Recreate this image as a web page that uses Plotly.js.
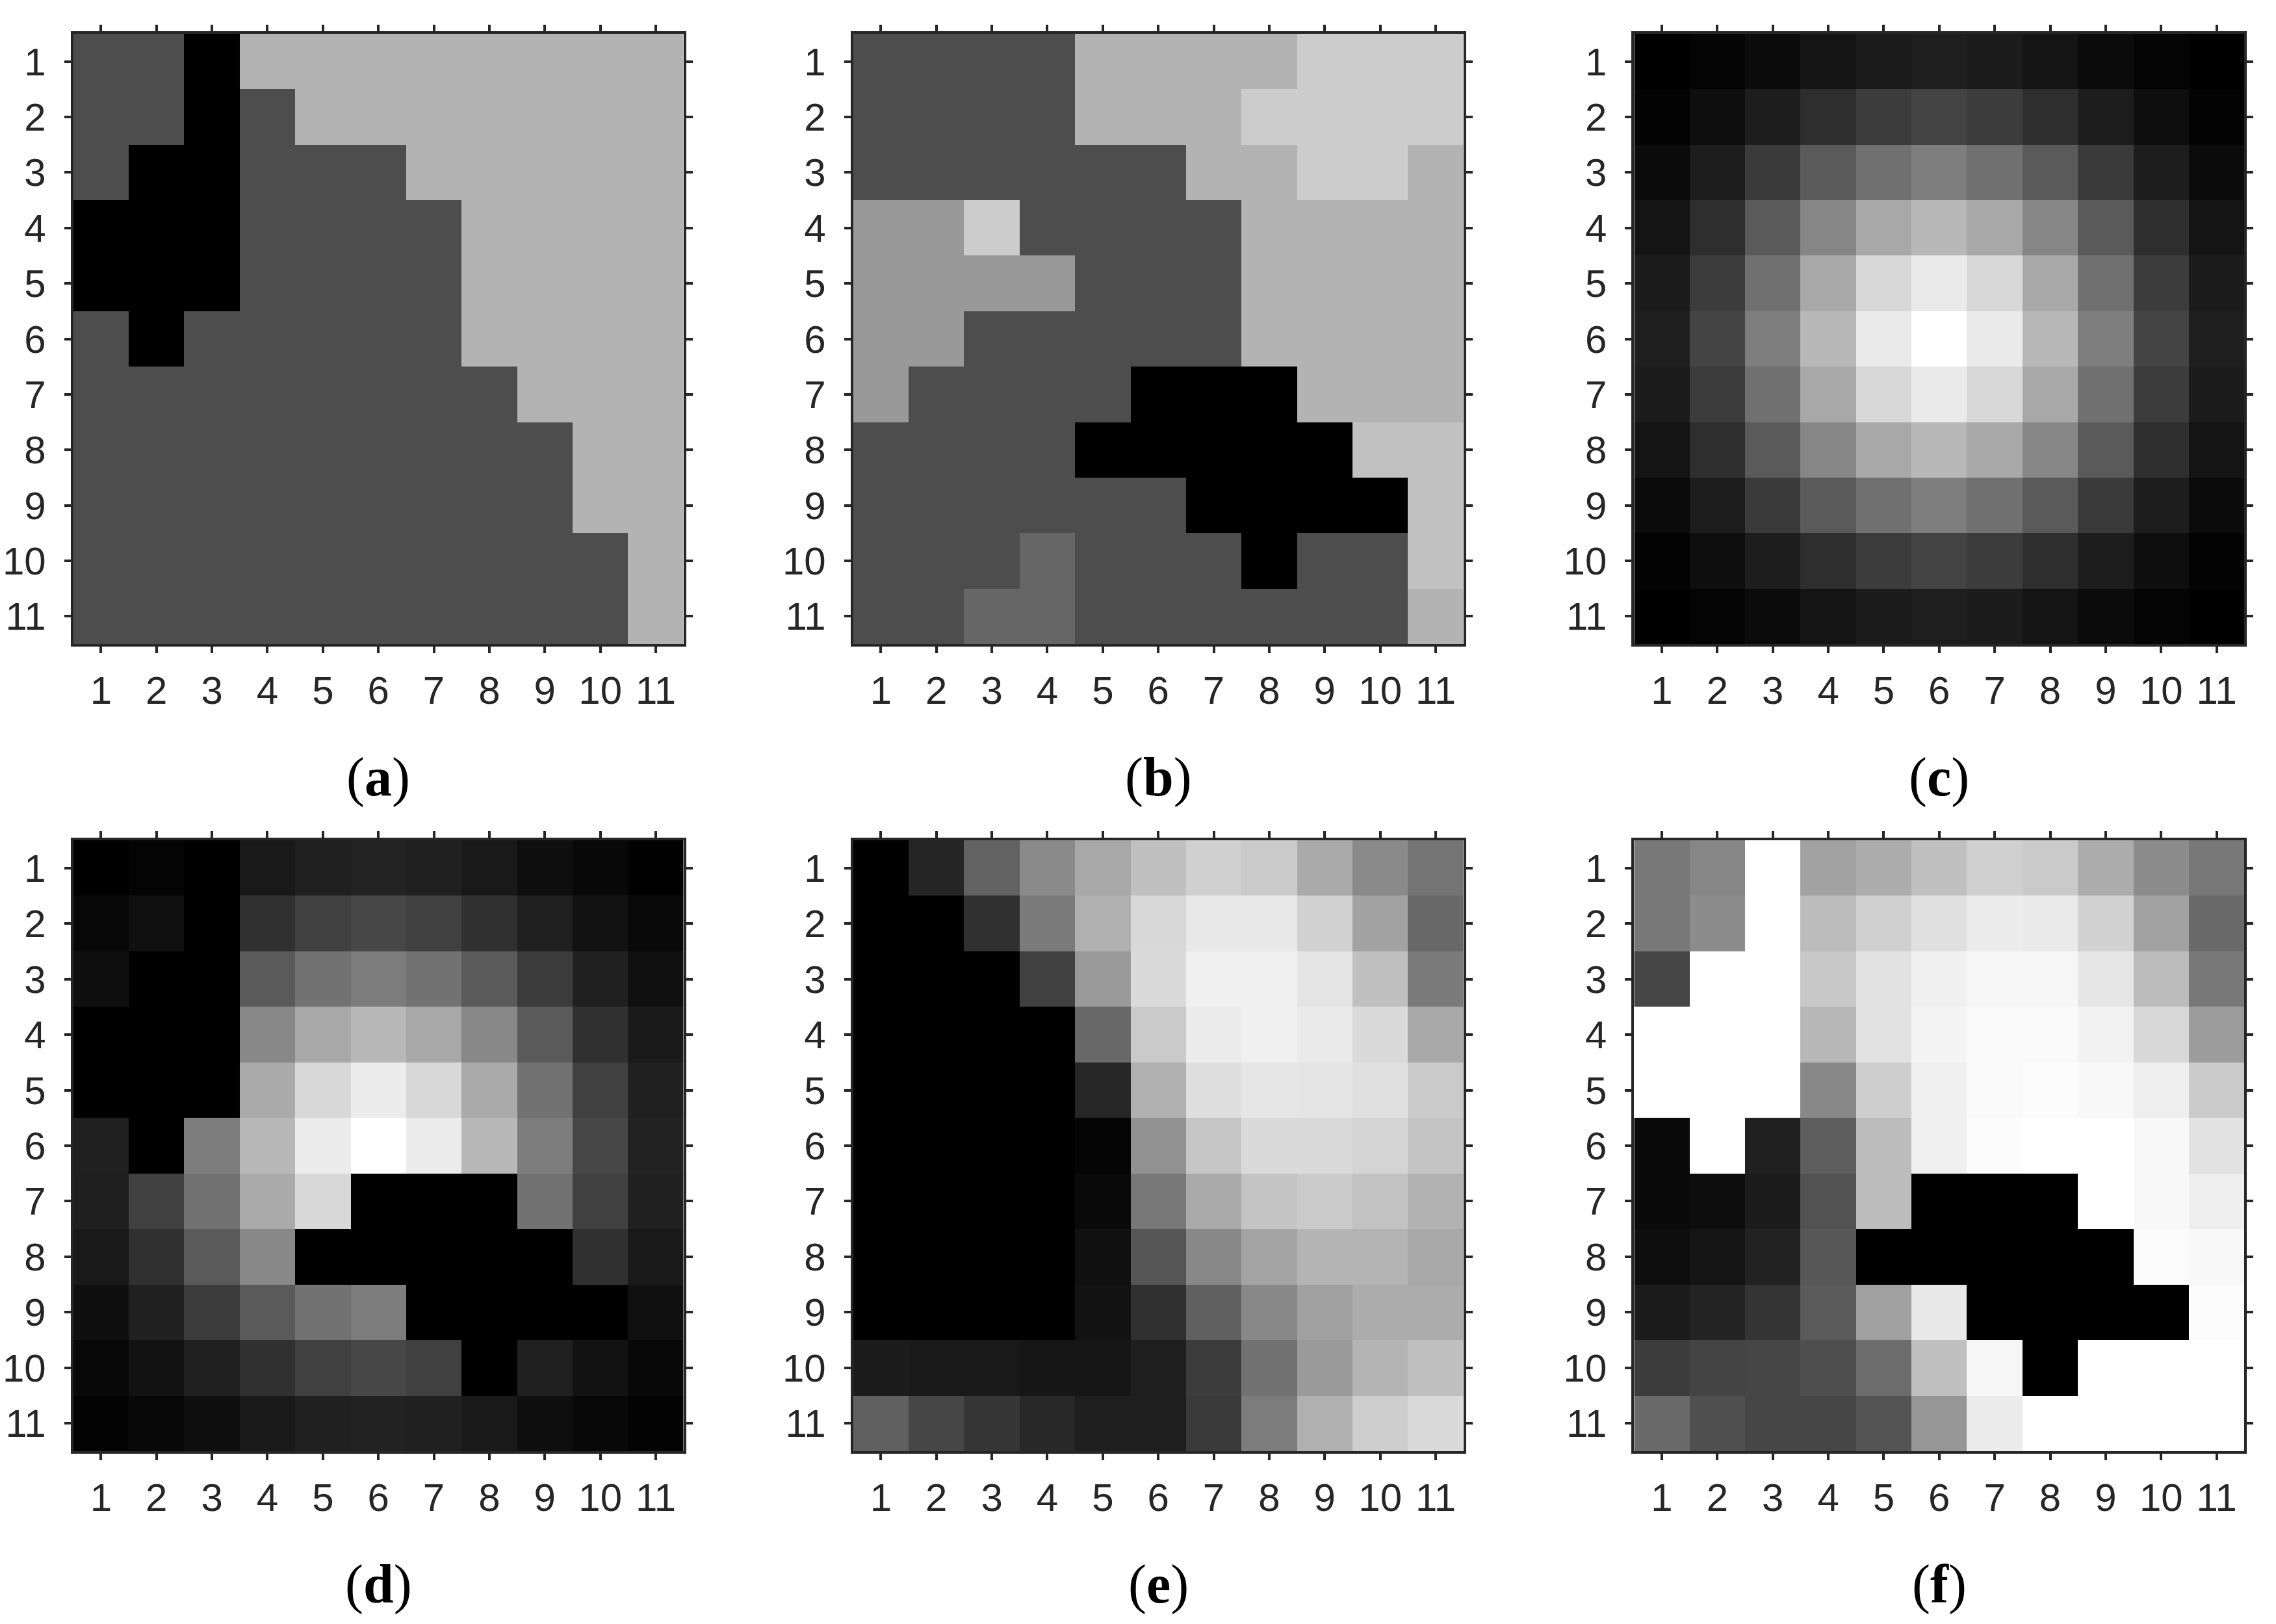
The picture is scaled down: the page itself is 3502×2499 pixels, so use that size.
<!DOCTYPE html>
<html>
<head>
<meta charset="utf-8">
<script src="https://cdn.plot.ly/plotly-3.0.1.min.js"></script>
<style>
  html, body { margin: 0; padding: 0; background: #ffffff; }
  #chart { width: 3502px; height: 2499px; }
</style>
</head>
<body>
<div id="chart"></div>
<script>
// ---- data: gray intensity (0 = black, 255 = white), rows 1..11 top to bottom ----
const rowLabels = [1, 2, 3, 4, 5, 6, 7, 8, 9, 10, 11];
const colLabels = [1, 2, 3, 4, 5, 6, 7, 8, 9, 10, 11];
const panelLabels = ['a', 'b', 'c', 'd', 'e', 'f'];

const panelA = [
  [77, 77, 0, 179, 179, 179, 179, 179, 179, 179, 179],
  [77, 77, 0, 77, 179, 179, 179, 179, 179, 179, 179],
  [77, 0, 0, 77, 77, 77, 179, 179, 179, 179, 179],
  [0, 0, 0, 77, 77, 77, 77, 179, 179, 179, 179],
  [0, 0, 0, 77, 77, 77, 77, 179, 179, 179, 179],
  [77, 0, 77, 77, 77, 77, 77, 179, 179, 179, 179],
  [77, 77, 77, 77, 77, 77, 77, 77, 179, 179, 179],
  [77, 77, 77, 77, 77, 77, 77, 77, 77, 179, 179],
  [77, 77, 77, 77, 77, 77, 77, 77, 77, 179, 179],
  [77, 77, 77, 77, 77, 77, 77, 77, 77, 77, 179],
  [77, 77, 77, 77, 77, 77, 77, 77, 77, 77, 179]
];

const panelB = [
  [77, 77, 77, 77, 179, 179, 179, 179, 204, 204, 204],
  [77, 77, 77, 77, 179, 179, 179, 204, 204, 204, 204],
  [77, 77, 77, 77, 77, 77, 179, 179, 204, 204, 179],
  [153, 153, 204, 77, 77, 77, 77, 179, 179, 179, 179],
  [153, 153, 153, 153, 77, 77, 77, 179, 179, 179, 179],
  [153, 153, 77, 77, 77, 77, 77, 179, 179, 179, 179],
  [153, 77, 77, 77, 77, 0, 0, 0, 179, 179, 179],
  [77, 77, 77, 77, 0, 0, 0, 0, 0, 193, 193],
  [77, 77, 77, 77, 77, 77, 0, 0, 0, 0, 193],
  [77, 77, 77, 102, 77, 77, 77, 0, 77, 77, 193],
  [77, 77, 102, 102, 77, 77, 77, 77, 77, 77, 179]
];

const panelC = [
  [0, 4, 11, 20, 28, 30, 28, 20, 11, 4, 0],
  [3, 14, 29, 46, 60, 68, 60, 46, 29, 14, 3],
  [11, 29, 58, 90, 112, 126, 112, 90, 58, 29, 11],
  [20, 46, 90, 134, 168, 184, 168, 134, 90, 46, 20],
  [28, 60, 112, 168, 216, 234, 216, 168, 112, 60, 28],
  [30, 68, 126, 184, 234, 255, 234, 184, 126, 68, 30],
  [28, 60, 112, 168, 216, 234, 216, 168, 112, 60, 28],
  [20, 46, 90, 134, 168, 184, 168, 134, 90, 46, 20],
  [11, 29, 58, 90, 112, 126, 112, 90, 58, 29, 11],
  [3, 14, 29, 46, 60, 68, 60, 46, 29, 14, 3],
  [0, 4, 11, 20, 28, 30, 28, 20, 11, 4, 0]
];

const panelD = [
  [0, 4, 0, 25, 32, 35, 32, 25, 15, 8, 2],
  [7, 16, 0, 48, 64, 71, 64, 48, 32, 18, 9],
  [15, 0, 0, 90, 114, 124, 114, 90, 59, 32, 16],
  [0, 0, 0, 136, 168, 184, 168, 136, 90, 48, 26],
  [0, 0, 0, 170, 216, 236, 216, 170, 114, 64, 32],
  [32, 0, 124, 184, 236, 255, 236, 184, 124, 71, 34],
  [31, 64, 114, 170, 216, 0, 0, 0, 114, 64, 32],
  [25, 48, 90, 136, 0, 0, 0, 0, 0, 48, 25],
  [15, 32, 59, 90, 114, 124, 0, 0, 0, 0, 16],
  [8, 18, 32, 48, 64, 71, 64, 0, 32, 18, 8],
  [3, 8, 15, 25, 32, 34, 32, 25, 15, 8, 3]
];

const panelE = [
  [0, 37, 98, 138, 168, 192, 208, 202, 170, 138, 116],
  [0, 0, 48, 122, 176, 216, 232, 232, 210, 162, 104],
  [0, 0, 0, 64, 154, 218, 240, 240, 228, 192, 122],
  [0, 0, 0, 0, 104, 202, 236, 240, 234, 218, 168],
  [0, 0, 0, 0, 38, 176, 222, 230, 228, 224, 202],
  [0, 0, 0, 0, 5, 146, 198, 218, 218, 212, 196],
  [0, 0, 0, 0, 10, 120, 170, 196, 202, 194, 178],
  [0, 0, 0, 0, 16, 85, 136, 164, 180, 180, 168],
  [0, 0, 0, 0, 18, 48, 96, 136, 160, 172, 172],
  [28, 25, 25, 22, 22, 30, 60, 114, 154, 180, 192],
  [96, 70, 54, 40, 30, 30, 58, 124, 176, 206, 218]
];

const panelF = [
  [120, 134, 255, 162, 172, 192, 208, 202, 172, 140, 120],
  [120, 140, 255, 188, 208, 224, 236, 234, 210, 162, 106],
  [70, 255, 255, 200, 226, 240, 246, 246, 230, 188, 120],
  [255, 255, 255, 184, 226, 244, 250, 250, 242, 216, 156],
  [255, 255, 255, 136, 206, 240, 250, 252, 248, 238, 202],
  [10, 255, 32, 94, 188, 240, 252, 254, 254, 248, 226],
  [10, 13, 28, 82, 188, 0, 0, 0, 254, 248, 238],
  [14, 20, 34, 88, 0, 0, 0, 0, 0, 252, 248],
  [28, 36, 52, 90, 160, 232, 0, 0, 0, 0, 252],
  [60, 68, 70, 78, 108, 192, 246, 0, 254, 254, 254],
  [106, 80, 70, 70, 84, 150, 236, 254, 254, 254, 254]
];

const panels = [panelA, panelB, panelC, panelD, panelE, panelF];

// ---- layout geometry (pixels) ----
const W = 3502, H = 2499;
const colPx = [[112.7, 1051.7], [1312.7, 2251.7], [2514.3, 3453.3]];
const rowPx = [[52, 991], [1293, 2233]];
const labelY = [1196, 2438];

const axisColor = '#262626';
const tickFont = { family: 'Liberation Sans, Arial, Helvetica, sans-serif', size: 60, color: axisColor };

const data = [];
const layout = {
  width: W, height: H,
  margin: { l: 0, r: 0, t: 0, b: 0 },
  paper_bgcolor: '#ffffff',
  plot_bgcolor: '#ffffff',
  showlegend: false,
  annotations: []
};

panels.forEach((z, i) => {
  const r = Math.floor(i / 3), c = i % 3;
  const n = i + 1;
  const xa = n === 1 ? 'x' : 'x' + n;
  const ya = n === 1 ? 'y' : 'y' + n;
  data.push({
    type: 'heatmap',
    z: z, x: colLabels, y: rowLabels,
    xaxis: xa, yaxis: ya,
    zmin: 0, zmax: 255,
    colorscale: [[0, 'rgb(0,0,0)'], [1, 'rgb(255,255,255)']],
    showscale: false,
    hoverinfo: 'skip'
  });
  const common = {
    showline: true, linecolor: axisColor, linewidth: 4,
    mirror: 'ticks', ticks: 'outside', ticklen: 10, tickwidth: 4, tickcolor: axisColor,
    tickfont: tickFont, showgrid: false, zeroline: false,
    tickmode: 'array', tickvals: colLabels, ticktext: colLabels.map(String),
    fixedrange: true
  };
  layout[xa === 'x' ? 'xaxis' : 'xaxis' + n] = Object.assign({}, common, {
    domain: [colPx[c][0] / W, colPx[c][1] / W],
    anchor: ya,
    range: [0.5, 11.5],
    ticklabelstandoff: 6
  });
  layout[ya === 'y' ? 'yaxis' : 'yaxis' + n] = Object.assign({}, common, {
    domain: [1 - rowPx[r][1] / H, 1 - rowPx[r][0] / H],
    anchor: xa,
    range: [11.5, 0.5],
    tickvals: rowLabels, ticktext: rowLabels.map(String),
    ticklabelstandoff: 16
  });
  layout.annotations.push({
    xref: 'paper', yref: 'paper',
    x: (colPx[c][0] + colPx[c][1]) / 2 / W,
    y: 1 - labelY[r] / H,
    xanchor: 'center', yanchor: 'middle',
    showarrow: false,
    text: '(<b>' + panelLabels[i] + '</b>)',
    font: { family: 'Liberation Serif, Times New Roman, serif', size: 84, color: '#000000' }
  });
});

Plotly.newPlot('chart', data, layout, { staticPlot: true, displayModeBar: false });
</script>
</body>
</html>
